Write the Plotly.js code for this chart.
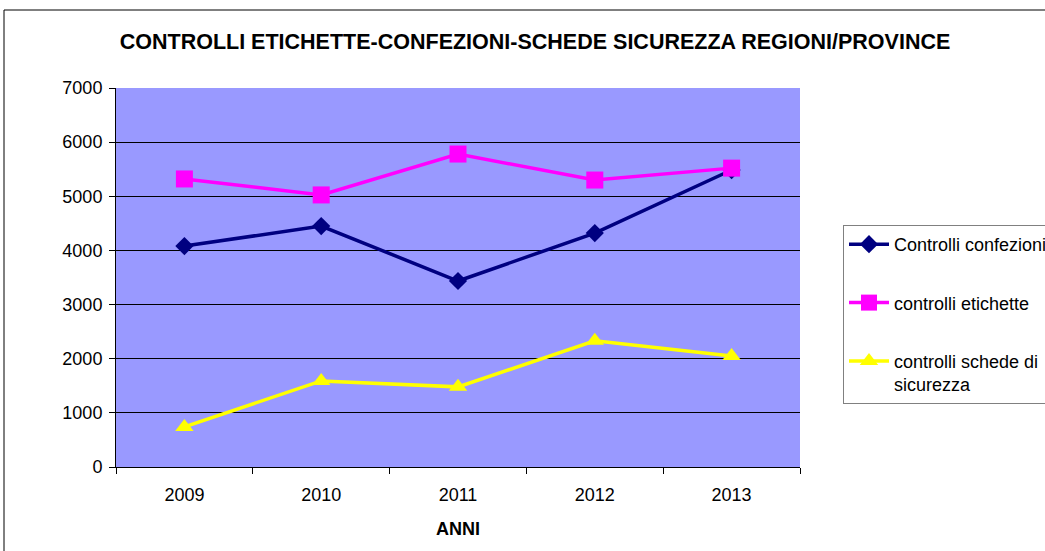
<!DOCTYPE html>
<html>
<head>
<meta charset="utf-8">
<script src="https://cdn.plot.ly/plotly-3.0.1.min.js"></script>
<style>html,body{margin:0;padding:0;background:#fff;overflow:hidden}#chart{width:1045px;height:551px}</style>
</head>
<body>
<div id="chart"></div>
<script>
const years = ["2009", "2010", "2011", "2012", "2013"];
const confezioni = [4080, 4450, 3435, 4320, 5485];
const etichette = [5320, 5025, 5780, 5300, 5520];
const schede = [740, 1590, 1480, 2330, 2050];
const seriesNames = ["Controlli confezioni", "controlli etichette", "controlli schede di<br>sicurezza"];
const yTicks = [0, 1000, 2000, 3000, 4000, 5000, 6000, 7000];

const F = "Liberation Sans, Arial, sans-serif";

const traces = [
  {x: years, y: confezioni, name: seriesNames[0], legendgroup: "a", type: "scatter", mode: "lines+markers",
   line: {color: "#000080", width: 3.5}, marker: {symbol: "diamond", size: 14, color: "#000080"}},
  {x: years, y: etichette, name: seriesNames[1], legendgroup: "b", type: "scatter", mode: "lines+markers",
   line: {color: "#FF00FF", width: 3.5}, marker: {symbol: "square", size: 17, color: "#FF00FF"}},
  {x: years, y: schede, name: seriesNames[2], legendgroup: "c", type: "scatter", mode: "lines+markers",
   line: {color: "#FFFF00", width: 3.5}, marker: {symbol: "triangle-up", size: 16, color: "#FFFF00"}}
];

const layout = {
  width: 1045, height: 551,
  margin: {l: 116, r: 245, t: 88, b: 84, autoexpand: false},
  paper_bgcolor: "#FFFFFF",
  plot_bgcolor: "#9999FF",
  font: {family: F, size: 18, color: "#000"},
  title: {text: "<b>CONTROLLI ETICHETTE-CONFEZIONI-SCHEDE SICUREZZA REGIONI/PROVINCE</b>",
          font: {family: F, size: 21.5, color: "#000"}, x: 0.512, xanchor: "center", y: 0.925, yanchor: "middle"},
  xaxis: {type: "category", range: [-0.5, 4.5], tickson: "boundaries", ticks: "outside", ticklen: 6,
          tickcolor: "#000", showline: true, linecolor: "#000", linewidth: 1, showgrid: false,
          tickfont: {family: F, size: 18}, fixedrange: true, ticklabelstandoff: 11,
          title: {text: "<b>ANNI</b>", font: {family: F, size: 18}, standoff: 18}},
  yaxis: {range: [0, 7000], tickvals: yTicks, ticktext: yTicks.map(String), ticks: "outside", ticklen: 6,
          tickcolor: "#000", showline: true, linecolor: "#000", linewidth: 1, ticklabelstandoff: 3,
          showgrid: true, gridcolor: "#000", gridwidth: 1, zeroline: false,
          tickfont: {family: F, size: 18}, fixedrange: true},
  showlegend: true,
  legend: {x: (843 - 116) / 684, xanchor: "left", y: (467 - 225) / 379, yanchor: "top",
           bgcolor: "#FFFFFF", bordercolor: "#808080", borderwidth: 1,
           traceorder: "grouped", tracegroupgap: 32, valign: "top", itemwidth: 40,
           font: {family: F, size: 18, color: "#000"}},
  shapes: [
    {type: "rect", xref: "paper", yref: "paper", x0: (4 - 116) / 684, x1: 1.6, y0: -0.5, y1: (467 - 10) / 379,
     line: {color: "#000", width: 1}, fillcolor: "rgba(0,0,0,0)", layer: "below"}
  ]
};

Plotly.newPlot("chart", traces, layout, {displayModeBar: false, staticPlot: true});
</script>
</body>
</html>
